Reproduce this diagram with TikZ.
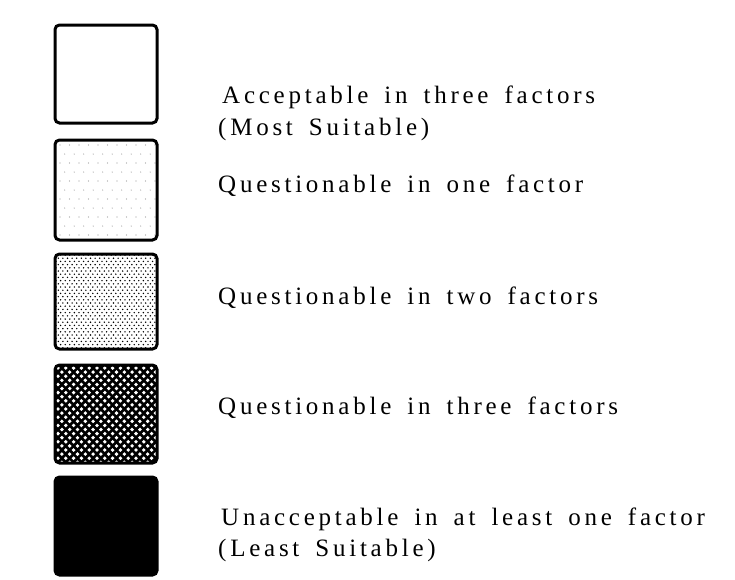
\documentclass[tikz,border=0pt]{standalone}
\usepackage{fontspec}
\setmainfont{Liberation Serif}[LetterSpace=15,WordSpace=1.6]
\begin{document}
\begin{tikzpicture}[x=1pt,y=-1pt,
  legbox/.style={draw=black,line width=3pt,rounded corners=4.5pt},
  legtext/.style={anchor=base west,inner sep=0pt,font=\fontsize{25}{30}\selectfont}]
\useasboundingbox (0,0) rectangle (735,579);
% box 1: plain
\draw[legbox,fill=white] (55,25) rectangle (157,123);
% box 2: sparse dots
\begin{scope}
\clip[rounded corners=4pt] (55,140) rectangle (157,240);
\foreach \i in {0,...,10}{\foreach \j in {0,...,10}{
  \pgfmathsetmacro{\xx}{60+\i*9.5+mod(\j,2)*4.7}
  \pgfmathsetmacro{\yy}{145+\j*9}
  \fill[black!40] (\xx,\yy) circle (0.55pt);}}
\end{scope}
\draw[legbox] (55,140) rectangle (157,240);
% box 3: fine dot grid
\begin{scope}
\clip[rounded corners=4pt] (55,254) rectangle (157,349);
\foreach \j in {0,...,30}{\foreach \i in {0,...,22}{
  \pgfmathsetmacro{\xx}{56+\i*4.6+mod(\j,2)*2.3}
  \pgfmathsetmacro{\yy}{255+\j*3.2}
  \fill[black] (\xx,\yy) circle (0.8pt);}}
\end{scope}
\draw[legbox] (55,254) rectangle (157,349);
% box 4: black with white dots
\begin{scope}
\clip[rounded corners=4pt] (55,365) rectangle (157,463);
\fill[black] (55,365) rectangle (157,463);
\foreach \j in {0,...,24}{\foreach \i in {0,...,13}{
  \pgfmathsetmacro{\xx}{58+\i*7.8+mod(\j,2)*3.9}
  \pgfmathsetmacro{\yy}{368+\j*4.1}
  \fill[white] (\xx,\yy) circle (1.9pt);}}
\end{scope}
\draw[legbox] (55,365) rectangle (157,463);
% box 5: solid black
\draw[legbox,fill=black] (55,477) rectangle (157,575);

\node[legtext] (t1a) at (222,103) {Acceptable in three factors};
\node[legtext] (t1b) at (218,135) {(Most Suitable)};
\node[legtext] (t2) at (218,192) {Questionable in one factor};
\node[legtext] (t3) at (218,304) {Questionable in two factors};
\node[legtext] (t4) at (218,414) {Questionable in three factors};
\node[legtext] (t5a) at (221,525) {Unacceptable in at least one factor};
\node[legtext] (t5b) at (218,556) {(Least Suitable)};
\end{tikzpicture}
\end{document}
